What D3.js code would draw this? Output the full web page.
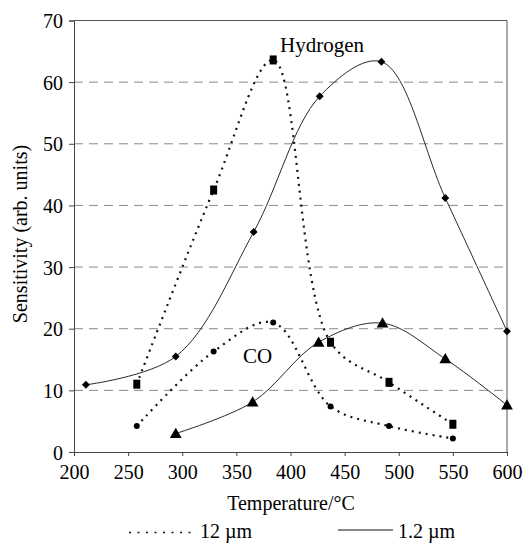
<!DOCTYPE html>
<html><head><meta charset="utf-8">
<script src="https://cdn.jsdelivr.net/npm/d3@7/dist/d3.min.js"></script>
<style>body{margin:0;background:#fff}svg{display:block}</style>
</head><body><svg id="c" width="526" height="545"></svg>
<script>
// Data
const h2_12 = [[258,11],[329,42.5],[384,63.6],[437,17.8],[491,11.3],[550,4.5]];
const co_12 = [[258,4.2],[329,16.3],[384,21],[437,7.4],[491,4.2],[550,2.2]];
const h2_1_2 = [[211,10.9],[294,15.5],[366,35.7],[427,57.7],[484,63.3],[543,41.2],[600,19.6]];
const co_1_2 = [[294,3],[365,8.1],[426,17.8],[485,20.9],[543,15.1],[600,7.6]];
const xTicks = [200,250,300,350,400,450,500,550,600];
const yTicks = [0,10,20,30,40,50,60,70];
const gridVals = [10,20,30,40,50,60];

const FONT = '"Liberation Serif"';
const svg = d3.select("#c");
const x = d3.scaleLinear().domain([200,600]).range([74,507]);
const y = d3.scaleLinear().domain([0,70]).range([452,20.5]);

// grid
svg.append("g").selectAll("line").data(gridVals).join("line")
  .attr("x1",x(200)).attr("x2",x(600)).attr("y1",d=>y(d)).attr("y2",d=>y(d))
  .attr("stroke","#8a8a8a").attr("stroke-width",1).attr("stroke-dasharray","9,6");

// frame top/right
svg.append("line").attr("x1",x(200)).attr("x2",x(600)).attr("y1",y(70)).attr("y2",y(70)).attr("stroke","#555").attr("stroke-width",1);
svg.append("line").attr("x1",x(600)).attr("x2",x(600)).attr("y1",y(70)).attr("y2",y(0)).attr("stroke","#555").attr("stroke-width",1);

// axes
const xa = svg.append("g").attr("transform",`translate(0,${y(0)})`)
  .call(d3.axisBottom(x).tickValues(xTicks).tickSize(4).tickPadding(6).tickFormat(d3.format("d")));
const ya = svg.append("g").attr("transform",`translate(${x(200)},0)`)
  .call(d3.axisLeft(y).tickValues(yTicks).tickSize(5).tickPadding(6).tickFormat(d3.format("d")));
[xa,ya].forEach(a=>{a.attr("font-family",null);a.select(".domain").attr("stroke","#444");a.selectAll(".tick line").attr("stroke","#444");
  a.selectAll("text").attr("fill","#000").style("font-family",FONT);});
xa.selectAll("text").style("font-size","20px").attr("dy","0.85em");
ya.selectAll("text").style("font-size","20px").attr("dy","0.35em");

// curves
const line = d3.line().x(d=>x(d[0])).y(d=>y(d[1])).curve(d3.curveCatmullRom.alpha(0.5));
function drawLine(data, dotted){
  svg.append("path").attr("d",line(data)).attr("fill","none").attr("stroke","#111")
    .attr("stroke-width",dotted?2.2:0.9)
    .attr("stroke-dasharray",dotted?"2,5":null);
}
drawLine(h2_12,true); drawLine(co_12,true); drawLine(h2_1_2,false); drawLine(co_1_2,false);

// markers
svg.append("g").selectAll("rect").data(h2_12).join("rect")
  .attr("x",d=>x(d[0])-3.5).attr("y",d=>y(d[1])-4.5).attr("width",7).attr("height",9).attr("fill","#000");
svg.append("g").selectAll("circle").data(co_12).join("circle")
  .attr("cx",d=>x(d[0])).attr("cy",d=>y(d[1])).attr("r",3).attr("fill","#000");
svg.append("g").selectAll("path").data(h2_1_2).join("path")
  .attr("transform",d=>`translate(${x(d[0])},${y(d[1])})`)
  .attr("d",d3.symbol(d3.symbolDiamond2,40)).attr("fill","#000");
svg.append("g").selectAll("path").data(co_1_2).join("path")
  .attr("transform",d=>`translate(${x(d[0])},${y(d[1])+1})`)
  .attr("d",d3.symbol(d3.symbolTriangle,60)).attr("fill","#000");

function txt(xp,yp,s,size,anchor){
  return svg.append("text").attr("x",xp).attr("y",yp).attr("text-anchor",anchor||"start")
    .style("font-family",FONT).style("font-size",size+"px").attr("fill","#000").text(s);
}
// annotations
txt(280,52,"Hydrogen",21);
txt(243,363,"CO",21);

// axis titles
txt(291,510,"Temperature/°C",20,"middle");
txt(0,0,"Sensitivity (arb. units)",20,"middle").attr("transform","translate(27,234) rotate(-90)");

// legend
svg.append("line").attr("x1",129).attr("x2",196).attr("y1",532.5).attr("y2",532.5).attr("stroke","#111").attr("stroke-width",1.6).attr("stroke-dasharray","2,6.5");
txt(200,538,"12 µm",20);
svg.append("line").attr("x1",338).attr("x2",393).attr("y1",530).attr("y2",530).attr("stroke","#111").attr("stroke-width",1);
txt(398,538,"1.2 µm",20);
</script></body></html>
